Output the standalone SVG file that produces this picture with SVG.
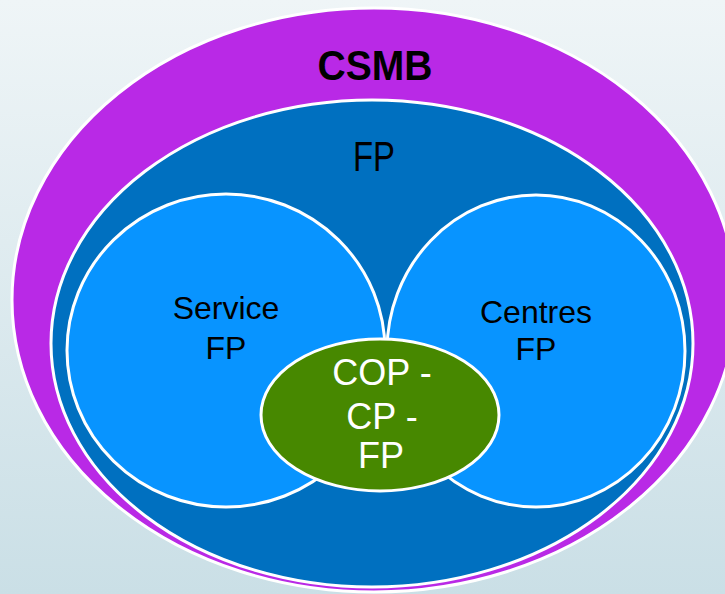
<svg xmlns="http://www.w3.org/2000/svg" width="725" height="594" viewBox="0 0 725 594">
<defs>
<linearGradient id="bg" x1="0" y1="0" x2="0" y2="1">
<stop offset="0" stop-color="#EFF5F7"/>
<stop offset="1" stop-color="#CADFE6"/>
</linearGradient>
</defs>
<style>
.sh{stroke:#FFFFFF;stroke-width:3}
.t{font-family:"Liberation Sans",Arial,sans-serif;text-anchor:middle}
</style>
<rect x="0" y="0" width="725" height="594" fill="url(#bg)"/>
<g id="csmb">
<ellipse class="sh" cx="374" cy="300" rx="362" ry="292" fill="#B929E6"/>
<text class="t" x="375" y="80" font-size="43" font-weight="bold" textLength="115" lengthAdjust="spacingAndGlyphs" fill="#000">CSMB</text>
</g>
<g id="fp">
<ellipse class="sh" cx="372" cy="343.5" rx="321" ry="243.5" fill="#0070C0"/>
<text class="t" x="374" y="171" font-size="43" textLength="42" lengthAdjust="spacingAndGlyphs" fill="#000">FP</text>
</g>
<g id="service">
<ellipse class="sh" cx="226" cy="350.5" rx="159" ry="156.5" fill="#0894FF"/>
<text class="t" x="226" y="319" font-size="32" fill="#000">Service</text>
<text class="t" x="226" y="359" font-size="32" fill="#000">FP</text>
</g>
<g id="centres">
<ellipse class="sh" cx="536" cy="351" rx="149" ry="156" fill="#0894FF"/>
<text class="t" x="536" y="323" font-size="32" fill="#000">Centres</text>
<text class="t" x="536" y="360" font-size="32" fill="#000">FP</text>
</g>
<g id="cop">
<ellipse class="sh" cx="380" cy="415" rx="119" ry="76" fill="#478800"/>
<text class="t" x="382" y="385" font-size="36" fill="#FFFFFF">COP -</text>
<text class="t" x="382" y="429" font-size="36" fill="#FFFFFF">CP -</text>
<text class="t" x="381" y="468" font-size="36" fill="#FFFFFF">FP</text>
</g>
<g id="connectors"/>
</svg>
